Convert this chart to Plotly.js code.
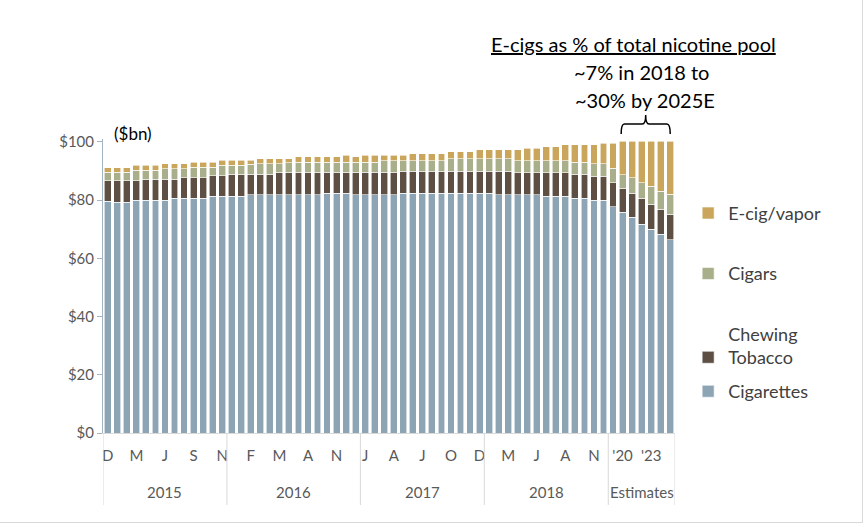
<!DOCTYPE html>
<html><head><meta charset="utf-8">
<script src="https://cdn.plot.ly/plotly-3.0.1.min.js"></script>
<style>
html,body{margin:0;padding:0;background:#fff;}
#chart{width:866px;height:527px;}
#frame{position:absolute;left:0;top:0;width:862px;height:522px;border-right:1px solid #d9d9d9;border-bottom:1px solid #d9d9d9;pointer-events:none;}
</style>
</head><body>
<div id="chart"></div><div id="frame"></div>
<script>
// Period tick labels (4-week periods, then annual estimates); blanks are unlabeled bars
const periodLabels = ['D','','', 'M','','', 'J','','', 'S','','', 'N','','', 'F','','', 'M','','', 'A','','', 'N','','', 'J','','', 'A','','', 'J','','', 'O','','', 'D','','', 'M','','', 'J','','', 'A','','', 'N','','', "'20",'','', "'23",'',''];
const groupNames = ['2015','2016','2017','2018','Estimates'];
const groupSizes = [13,14,13,13,7];

// $bn
const cigarettes = [79.6,79.3,79.3,80.0,80.0,80.0,80.0,80.7,80.7,80.7, 80.7,81.4,81.4,81.4,81.4,81.8,81.8,81.8,81.8,81.8, 81.8,81.8,81.8,82.4,82.4,82.4,81.8,81.8,81.8,81.8, 81.8,82.4,82.4,82.4,82.4,82.4,82.4,82.4,82.4,82.4, 82.4,81.8,81.8,81.8,81.8,81.8,81.4,81.4,81.4,80.7, 80.7,80.0,80.0,77.7,75.9,74.2,71.8,70.0,68.2,66.4];
const chewing = [7.0,7.3,7.3,6.6,7.2,7.2,7.2,6.5,7.0,7.0, 7.0,7.0,7.0,7.5,7.5,7.1,7.1,7.1,7.7,7.7, 7.7,7.7,7.7,7.1,7.1,7.1,7.7,7.7,7.7,7.7, 7.7,7.6,7.6,7.6,7.6,7.6,7.6,7.6,7.6,7.6, 7.6,8.2,8.2,7.6,7.6,7.6,8.0,8.0,8.0,8.2, 8.2,8.2,8.2,8.2,8.2,8.2,8.8,8.6,8.7,8.8];
const cigars = [2.9,2.9,2.9,3.6,3.0,3.0,3.5,3.5,3.0,3.6, 3.6,2.9,3.5,3.0,3.0,3.4,3.6,3.6,3.0,3.3, 3.5,3.5,3.5,3.5,3.5,3.5,3.5,3.5,3.5,4.1, 4.1,3.6,3.6,3.6,3.6,3.6,4.3,4.3,4.3,4.3, 4.3,4.3,4.3,4.2,4.2,4.2,4.2,4.2,4.2,4.1, 4.1,4.3,4.3,5.0,4.7,5.3,5.3,6.1,6.1,6.8];
const ecig = [1.7,1.7,1.7,1.8,1.8,1.8,1.8,1.8,1.8,1.7, 1.7,1.7,1.8,1.8,1.8,1.4,1.8,1.8,1.8,1.5, 1.9,1.9,1.9,1.9,1.9,2.5,1.9,2.5,2.5,1.9, 1.9,1.9,2.4,2.4,2.4,2.4,2.4,2.4,2.4,3.0, 3.0,3.0,3.0,3.7,4.3,4.3,4.8,4.8,5.4,6.0, 6.0,6.5,7.1,8.7,11.5,12.6,14.4,15.6,17.3,18.3];

const seriesNames = ['Cigarettes','Chewing<br>Tobacco','Cigars','E-cig/vapor'];
const seriesColors = ['#8da4b5','#5d4f43','#a9af8a','#c9a65c'];
const yTicks = [0,20,40,60,80,100];

const FONT = 'Lato, "Liberation Sans", sans-serif';
const x = periodLabels.map((_, i) => i);
const allSeries = [cigarettes, chewing, cigars, ecig];
const traces = allSeries.map((vals, k) => ({
  type: 'bar', x: x, y: vals, name: seriesNames[k], legendgroup: 'g' + k,
  legendrank: 10 - k, legend: k === 0 ? 'legend2' : 'legend',
  marker: {color: seriesColors[k], line: {color: '#ffffff', width: 0.6}},
  hoverinfo: 'skip'
}));

const tickvals = [], ticktext = [];
periodLabels.forEach((l, i) => { if (l) { tickvals.push(i); ticktext.push(l); } });

const shapes = [], annotations = [];
let start = 0;
const bounds = [-0.5];
groupSizes.forEach((n, g) => {
  annotations.push({x: start + (n - 1) / 2, y: -0.2, xref: 'x', yref: 'paper', text: groupNames[g],
    showarrow: false, font: {family: FONT, size: 15, color: '#595959'}, xanchor: 'center', yanchor: 'middle'});
  start += n;
  bounds.push(start - 0.5);
});
bounds.forEach(b => shapes.push({type: 'line', xref: 'x', yref: 'paper', x0: b, x1: b, y0: 0, y1: -0.245,
  line: {color: '#d9d9d9', width: 1}}));

// bracket over estimate bars
const estStart = groupSizes.slice(0, 4).reduce((a, b) => a + b, 0);
const bx0 = estStart + 0.85, bx1 = estStart + 6.0, bm = (bx0 + bx1) / 2;
const yl = 1.051, ye = 1.017, yt = 1.082, d = 0.35;
shapes.push({type: 'path', xref: 'x', yref: 'paper', line: {color: '#000', width: 1.5},
  path: `M ${bx0},${ye} Q ${bx0},${yl} ${bx0 + d},${yl} L ${bm - d},${yl} Q ${bm},${yl} ${bm},${yt} Q ${bm},${yl} ${bm + d},${yl} L ${bx1 - d},${yl} Q ${bx1},${yl} ${bx1},${ye}`});

const noteFont = {family: FONT, size: 20, color: '#000'};
annotations.push({xref: 'paper', yref: 'paper', x: 0.928, y: 1.323, xanchor: 'center', yanchor: 'middle',
  text: '<u>E-cigs as % of total nicotine pool</u>', showarrow: false, font: noteFont});
annotations.push({xref: 'paper', yref: 'paper', x: 0.941, y: 1.228, xanchor: 'center', yanchor: 'middle',
  text: '~7% in 2018 to', showarrow: false, font: noteFont});
annotations.push({xref: 'paper', yref: 'paper', x: 0.948, y: 1.133, xanchor: 'center', yanchor: 'middle',
  text: '~30% by 2025E', showarrow: false, font: noteFont});
annotations.push({xref: 'paper', yref: 'paper', x: 0.052, y: 1.02, xanchor: 'center', yanchor: 'middle',
  text: '($bn)', showarrow: false, font: {family: FONT, size: 17, color: '#000'}});

const legendFont = {family: FONT, size: 18, color: '#404040'};
const layout = {
  width: 866, height: 527,
  margin: {l: 103, r: 191, t: 139, b: 94},
  paper_bgcolor: '#fff', plot_bgcolor: '#fff',
  barmode: 'stack', bargap: 0.28,
  font: {family: FONT},
  xaxis: {range: [-0.5, 59.5], tickmode: 'array', tickvals: tickvals, ticktext: ticktext, ticks: '',
    showline: true, linecolor: '#d9d9d9', showgrid: false, zeroline: false,
    tickfont: {family: FONT, size: 15, color: '#595959'}, ticklabelstandoff: 9, tickangle: 0},
  yaxis: {range: [0, 101], tickmode: 'array', tickvals: yTicks, ticktext: yTicks.map(v => '$' + v),
    ticks: 'outside', ticklen: 5, tickcolor: '#a3b5c2', showline: true, linecolor: '#a3b5c2',
    showgrid: false, zeroline: false, tickfont: {family: FONT, size: 15, color: '#595959'}},
  legend: {x: 1.023, xanchor: 'left', y: 0.81, yanchor: 'top', traceorder: 'grouped',
    tracegroupgap: 34, valign: 'bottom', font: legendFont, bgcolor: 'rgba(0,0,0,0)'},
  legend2: {x: 1.023, xanchor: 'left', y: 0.204, yanchor: 'top', traceorder: 'normal',
    valign: 'bottom', font: legendFont, bgcolor: 'rgba(0,0,0,0)'},
  shapes: shapes, annotations: annotations,
  showlegend: true
};
Plotly.newPlot('chart', traces, layout, {displayModeBar: false, staticPlot: true});
</script>
</body></html>
